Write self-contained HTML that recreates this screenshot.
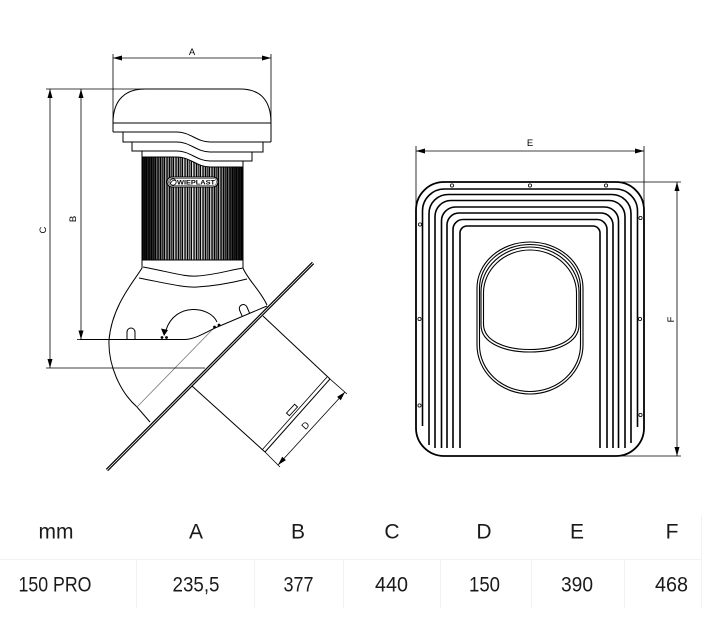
<!DOCTYPE html>
<html><head><meta charset="utf-8"><style>
html,body{margin:0;padding:0;background:#fff;}
svg{display:block;}
</style></head><body>
<svg width="720" height="624" viewBox="0 0 720 624" xmlns="http://www.w3.org/2000/svg">
<defs>
<linearGradient id="cylg" x1="0" x2="1" y1="0" y2="0">
<stop offset="0" stop-color="#111"/>
<stop offset="0.1" stop-color="#333"/>
<stop offset="0.2" stop-color="#a0a0a0"/>
<stop offset="0.5" stop-color="#e2e2e2"/>
<stop offset="0.8" stop-color="#a0a0a0"/>
<stop offset="0.9" stop-color="#333"/>
<stop offset="1" stop-color="#111"/>
</linearGradient>
<pattern id="strp" patternUnits="userSpaceOnUse" x="142" y="0" width="9" height="400">
<rect x="0" y="0" width="1.3" height="400" fill="#000"/>
<rect x="2.2" y="0" width="0.7" height="400" fill="#000"/>
<rect x="3.6" y="0" width="1.4" height="400" fill="#000"/>
<rect x="6.0" y="0" width="0.6" height="400" fill="#000"/>
<rect x="7.3" y="0" width="0.9" height="400" fill="#000"/>
</pattern>
<clipPath id="cylc"><path d="M142,157 L177,157 C190,157 197,167 210,167 L243,167 L243,260 L142,260 Z"/></clipPath>
</defs>

<!-- LEFT DRAWING -->
<g fill="none" stroke="#000" stroke-width="1">
  <path d="M113,132 L113,123 C113,100 125,89 145,89 L240,89 C260,89 271,100 271,123 L271,142"/>
  <path d="M113,123 L271,123"/>
  <path d="M113,132 L177,132 C190,132 197,142 210,142 L271,142"/>
  <path d="M123,132 L123,142 L177,142 C190,142 197,152 210,152 L263,152 L263,142"/>
  <path d="M132,142 L132,151 L177,151 C190,151 197,161 210,161 L252,161 L252,152"/>
  <path d="M142,151 L142,157 M243,161 L243,167"/>
</g>
<g clip-path="url(#cylc)">
  <rect x="142" y="150" width="101" height="115" fill="url(#cylg)"/>
  <rect x="142" y="150" width="101" height="115" fill="url(#strp)"/>
</g>
<path d="M142,157 L177,157 C190,157 197,167 210,167 L243,167 L243,260 L142,260 Z" fill="none" stroke="#000" stroke-width="1"/>
<rect x="167" y="177" width="51" height="10" rx="5" fill="#fff" stroke="#000" stroke-width="1"/>
<rect x="168.5" y="178.3" width="48" height="7.4" rx="3.7" fill="none" stroke="#000" stroke-width="0.5"/>
<circle cx="173" cy="182" r="3.2" fill="#fff" stroke="#000" stroke-width="0.8"/>
<path d="M170.5,183.5 C172,180 174,180 175.5,180.5" fill="none" stroke="#000" stroke-width="0.8"/>
<text x="177" y="184.6" font-family="Liberation Sans, sans-serif" font-size="6.5" font-weight="bold" textLength="38" lengthAdjust="spacingAndGlyphs" fill="#000">WIEPLAST</text>

<g fill="none" stroke="#000" stroke-width="1">
  <path d="M142,260 L142,268 C135,280 112,305 109,340 C108,365 120,392 137,407 L150,422"/>
  <path d="M243,260 L243,268 C248,280 260,290 267,305"/>
  <path d="M143,267 C170,272 185,277 197,276 C215,275 230,270 243,268"/>
  <path d="M139,278 C165,283 185,288 197,287 C215,286 235,282 247,279"/>
  <path d="M80,339.5 L185,339.5 C195,339 205,333 215,328 L267,306"/>
  <path d="M127,339.5 L127,332 A4,4 0 0 1 135,332 L135,339.5"/>
  <path d="M-4,0 L-4,-7 A4,4 0 0 1 4,-7 L4,0" transform="translate(246,315) rotate(-23)"/>
  <path d="M217,322 C210,306 175,302 166,330"/>
  <path d="M263,316 L330,379"/>
  <path d="M192,386 L265,452"/>
  <path d="M330,379 L265,452"/>
  <path d="M327,377 L262,450" stroke-width="0.8"/>
  <path d="M330,379 L347,394 M265,452 L280,467" stroke-width="0.8"/>
  <path d="M345,392 L278,465" stroke-width="0.8"/>
  <rect x="-6" y="-2" width="12" height="4" transform="translate(292,410) rotate(-47.5)" stroke-width="0.9"/>
</g>
<path d="M137,407 L212,330" stroke="#777" stroke-width="0.8" fill="none"/>
<polygon points="164,336 161,328.5 168,330" fill="#000"/>
<g fill="#000">
  <circle cx="162" cy="337.5" r="1.4"/><circle cx="166.5" cy="337.5" r="1.4"/>
  <circle cx="214.5" cy="327" r="1.4"/><circle cx="219" cy="325" r="1.4"/>
</g>
<path d="M107,470 L313,263" stroke="#000" stroke-width="3.2" fill="none"/>
<path d="M107,470 L313,263" stroke="#fff" stroke-width="0.8" fill="none"/>
<polygon points="345,392 340.8,400.3 337.1,396.9" fill="#000"/>
<polygon points="278,465 285.9,460.1 282.2,456.7" fill="#000"/>

<g fill="none" stroke="#000" stroke-width="0.8">
  <path d="M113,54 L113,123 M271,54 L271,123"/>
  <path d="M113,58 L271,58"/>
  <path d="M46,89 L145,89"/>
  <path d="M50,89 L50,368"/>
  <path d="M81,89 L81,339.5"/>
  <path d="M46,368 L205,368"/>
  <path d="M77,339.5 L80,339.5"/>
</g>
<g fill="#000">
  <polygon points="113,58 122,55.5 122,60.5"/>
  <polygon points="271,58 262,55.5 262,60.5"/>
  <polygon points="50,89 47.5,98 52.5,98"/>
  <polygon points="50,368 47.5,359 52.5,359"/>
  <polygon points="81,89 78.5,98 83.5,98"/>
  <polygon points="81,339.5 78.5,330.5 83.5,330.5"/>
</g>
<g font-family="Liberation Sans, sans-serif" font-size="9.5" fill="#000" text-anchor="middle" dominant-baseline="central">
  <text x="192" y="52.7">A</text>
  <text x="0" y="0" transform="translate(43.3,230) rotate(-90)">C</text>
  <text x="0" y="0" transform="translate(73.3,219) rotate(-90)">B</text>
  <text x="0" y="0" transform="translate(306,426) rotate(-47.5)">D</text>
  <text x="530" y="143.3">E</text>
  <text x="0" y="0" transform="translate(671.7,319.5) rotate(-90)">F</text>
</g>

<!-- RIGHT DRAWING -->
<g fill="none" stroke="#000">
  <rect x="416" y="182" width="228" height="274" rx="28" stroke-width="1.8"/>
  <g stroke-width="1.6">
    <path d="M422.5,426 L422.5,211 A22,22 0 0 1 444.5,189 L615.5,189 A22,22 0 0 1 637.5,211 L637.5,427"/>
    <path d="M429,445 L429,213.5 A19,19 0 0 1 448,194.5 L612,194.5 A19,19 0 0 1 631,213.5 L631,443"/>
    <path d="M435,448 L435,216.5 A16,16 0 0 1 451,200.5 L609,200.5 A16,16 0 0 1 625,216.5 L625,448"/>
    <path d="M441.5,448 L441.5,221 A14,14 0 0 1 455.5,207 L604.5,207 A14,14 0 0 1 618.5,221 L618.5,448"/>
    <path d="M447,448 L447,225 A12,12 0 0 1 459,213 L601,213 A12,12 0 0 1 613,225 L613,448"/>
    <path d="M453,448 L453,229.5 A10,10 0 0 1 463,219.5 L597,219.5 A10,10 0 0 1 607,229.5 L607,448"/>
    <path d="M460,448 L460,233 A7,7 0 0 1 467,226 L593,226 A7,7 0 0 1 600,233 L600,448"/>
  </g>
  <g stroke-width="1.1">
    <path d="M477,288 A53,46 0 0 1 583,288 L583,345 A53,49 0 0 1 477,345 Z"/>
    <path d="M479.5,288 A50.5,43.5 0 0 1 580.5,288 L580.5,345 A50.5,46.5 0 0 1 479.5,345 Z"/>
    <path d="M481,325 L481,292 A49,45 0 0 1 579,292 L579,325 C579,343 556,352 530,352 C504,352 481,343 481,325 Z"/>
    <path d="M483.5,324 L483.5,293 A46.5,43 0 0 1 576.5,293 L576.5,324 C576.5,341 555,349.5 530,349.5 C505,349.5 483.5,341 483.5,324 Z"/>
  </g>
  <g stroke-width="0.8">
    <path d="M416,146 L416,210 M644,146 L644,210"/>
    <path d="M416,151 L644,151"/>
    <path d="M620,182 L681,182 M620,456 L681,456"/>
    <path d="M677,182 L677,456"/>
  </g>
</g>
<g fill="#fff" stroke="#000" stroke-width="0.8">
  <circle cx="452" cy="185.5" r="1.6"/><circle cx="530" cy="185.5" r="1.6"/><circle cx="606" cy="185.5" r="1.6"/>
  <circle cx="420" cy="224.5" r="1.6"/><circle cx="419.5" cy="319" r="1.6"/><circle cx="419.5" cy="405.5" r="1.6"/>
  <circle cx="640.5" cy="218" r="1.6"/><circle cx="640" cy="319" r="1.6"/><circle cx="640.5" cy="415" r="1.6"/>
</g>
<g fill="#000">
  <polygon points="416,151 425,148.5 425,153.5"/>
  <polygon points="644,151 635,148.5 635,153.5"/>
  <polygon points="677,182 674.5,191 679.5,191"/>
  <polygon points="677,456 674.5,447 679.5,447"/>
</g>

<!-- TABLE -->
<g stroke="#f2f2f2" stroke-width="1" fill="none">
  <path d="M0,559.5 L702,559.5"/>
  <path d="M136.5,560 L136.5,608 M254.5,560 L254.5,608 M343.5,560 L343.5,608 M440.5,560 L440.5,608 M531.5,560 L531.5,608 M624.5,560 L624.5,608 M701.5,515 L701.5,608"/>
</g>
<g font-family="Liberation Sans, sans-serif" font-size="21" fill="#1a1a1a" text-anchor="middle">
  <text x="56" y="538.5">mm</text>
  <text x="196" y="538.5">A</text>
  <text x="298" y="538.5">B</text>
  <text x="392" y="538.5">C</text>
  <text x="484" y="538.5">D</text>
  <text x="577" y="538.5">E</text>
  <text x="672" y="538.5">F</text>
  <text x="55" y="591.5" textLength="73" lengthAdjust="spacingAndGlyphs">150 PRO</text>
  <text x="196" y="591.5" textLength="47" lengthAdjust="spacingAndGlyphs">235,5</text>
  <text x="298.5" y="591.5" textLength="30" lengthAdjust="spacingAndGlyphs">377</text>
  <text x="391.5" y="591.5" textLength="33" lengthAdjust="spacingAndGlyphs">440</text>
  <text x="484.5" y="591.5" textLength="31" lengthAdjust="spacingAndGlyphs">150</text>
  <text x="577" y="591.5" textLength="32" lengthAdjust="spacingAndGlyphs">390</text>
  <text x="671.5" y="591.5" textLength="33" lengthAdjust="spacingAndGlyphs">468</text>
</g>
</svg>
</body></html>
